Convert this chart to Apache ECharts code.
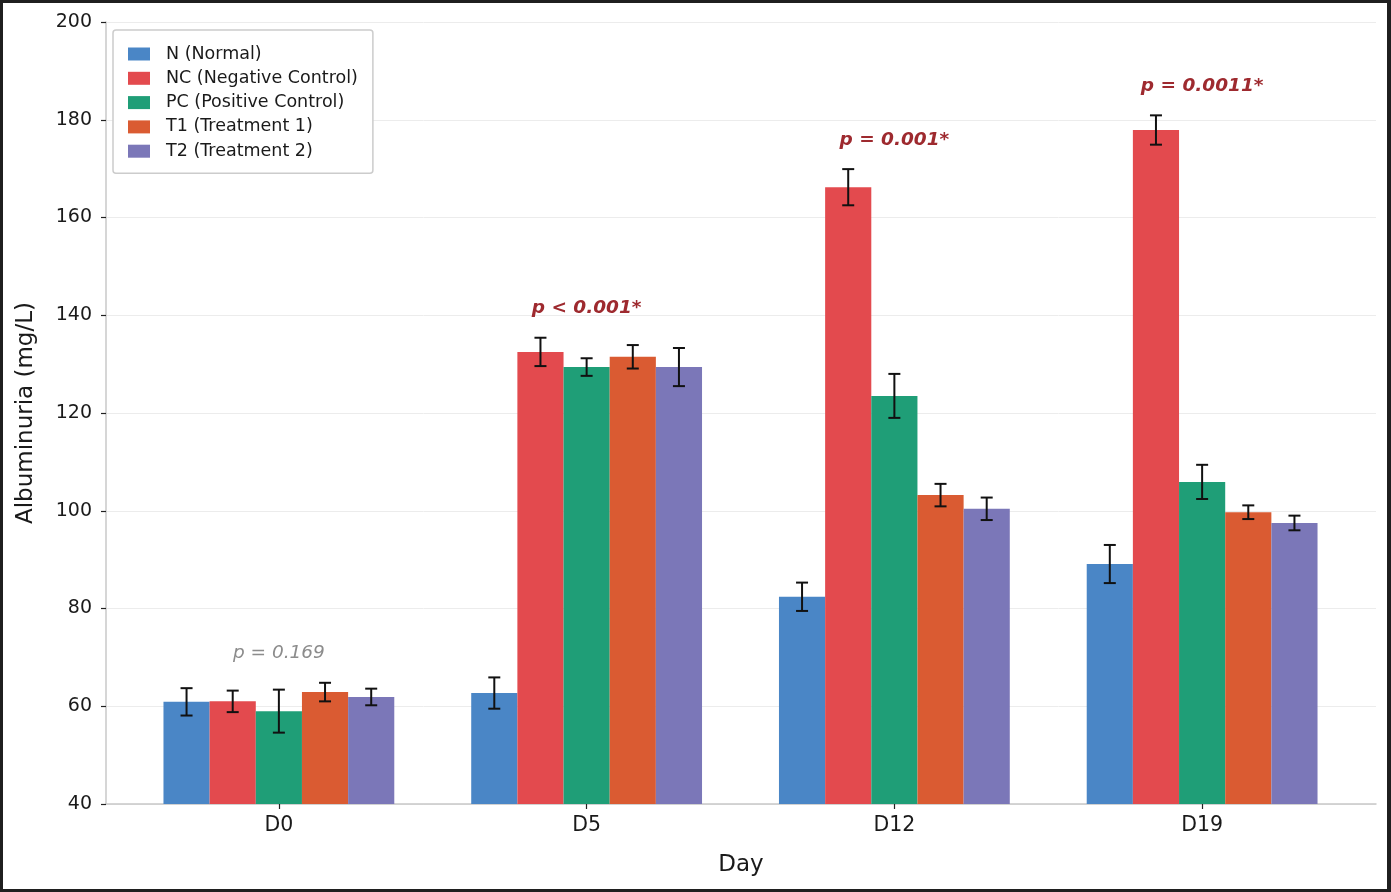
<!DOCTYPE html>
<html>
<head>
<meta charset="utf-8">
<script src="https://cdn.jsdelivr.net/npm/echarts@6/dist/echarts.min.js"></script>
<style>
  html, body { margin: 0; padding: 0; background: #1f1f1f; }
  #chart { position: absolute; left: 3px; top: 3px; width: 1384px; height: 886px; background: #fff; }
</style>
</head>
<body>
<div id="chart"></div>
<script>
// days on the x axis
const categories = ['D0', 'D5', 'D12', 'D19']
const groupNames = ['N (Normal)', 'NC (Negative Control)', 'PC (Positive Control)', 'T1 (Treatment 1)', 'T2 (Treatment 2)']
const groupColors = ['#4A86C6', '#E34A4E', '#1F9E77', '#DA5B32', '#7B77B8']

// albuminuria means and error (mg/L)
const nMeans = [60.9, 62.7, 82.4, 89.1]
const nErrs = [2.8, 3.2, 2.9, 3.9]
const ncMeans = [61.0, 132.5, 166.2, 177.9]
const ncErrs = [2.2, 2.9, 3.7, 3.0]
const pcMeans = [59.0, 129.4, 123.5, 105.9]
const pcErrs = [4.4, 1.8, 4.5, 3.5]
const t1Means = [62.9, 131.5, 103.2, 99.7]
const t1Errs = [1.9, 2.4, 2.3, 1.4]
const t2Means = [61.9, 129.4, 100.4, 97.5]
const t2Errs = [1.7, 3.9, 2.3, 1.5]

// p values per day
const pLabels = ['p = 0.169', 'p < 0.001*', 'p = 0.001*', 'p = 0.0011*']
const pSignificant = [false, true, true, true]

const yTicks = [40, 60, 80, 100, 120, 140, 160, 180, 200]

const allMeans = [nMeans, ncMeans, pcMeans, t1Means, t2Means]
const allErrs = [nErrs, ncErrs, pcErrs, t1Errs, t2Errs]
const BAR_FRAC = 0.15
const FONT = 'DejaVu Sans'

const chart = echarts.init(document.getElementById('chart'))

const barSeries = groupNames.map((name, s) => ({
    name: name,
    type: 'bar',
    xAxisIndex: 1,
    yAxisIndex: 1,
    data: allMeans[s],
    barGap: '0%',
    barCategoryGap: '25%',
    itemStyle: { color: groupColors[s] },
    z: 2
}))

const errSeries = groupNames.map((name, s) => ({
    type: 'custom',
    xAxisIndex: 1,
    yAxisIndex: 1,
    silent: true,
    z: 5,
    data: categories.map((c, i) => [i, allMeans[s][i] - allErrs[s][i], allMeans[s][i] + allErrs[s][i]]),
    renderItem: function (params, api) {
        const band = api.size([1, 0])[0]
        const dx = (s - 2) * band * BAR_FRAC
        const lo = api.coord([api.value(0), api.value(1)])
        const hi = api.coord([api.value(0), api.value(2)])
        const x = lo[0] + dx
        const cap = 6
        const st = { stroke: '#111', lineWidth: 2 }
        return {
            type: 'group',
            children: [
                { type: 'line', shape: { x1: x, y1: lo[1], x2: x, y2: hi[1] }, style: st },
                { type: 'line', shape: { x1: x - cap, y1: lo[1], x2: x + cap, y2: lo[1] }, style: st },
                { type: 'line', shape: { x1: x - cap, y1: hi[1], x2: x + cap, y2: hi[1] }, style: st }
            ]
        }
    }
}))

// p labels sit a little above the highest error bar of each day
const pSeries = {
    type: 'custom',
    xAxisIndex: 1,
    yAxisIndex: 1,
    silent: true,
    z: 6,
    data: categories.map((c, i) => {
        let top = 0
        allMeans.forEach((m, s) => { top = Math.max(top, m[i] + allErrs[s][i]) })
        return [i, top + 6]
    }),
    renderItem: function (params, api) {
        const i = api.value(0)
        const p = api.coord([i, api.value(1)])
        const sig = pSignificant[i]
        return {
            type: 'text',
            x: p[0],
            y: p[1],
            style: {
                text: pLabels[i],
                align: 'center',
                verticalAlign: 'middle',
                fontFamily: FONT,
                fontSize: 18.5,
                fontStyle: 'italic',
                fontWeight: sig ? 'bold' : 'normal',
                fill: sig ? '#9E2A2F' : '#8c8c8c'
            }
        }
    }
}

const option = {
    animation: false,
    textStyle: { fontFamily: FONT },
    legend: {
        data: groupNames,
        orient: 'vertical',
        left: 110,
        top: 27,
        padding: [15, 15, 13, 15],
        itemGap: 6.3,
        itemWidth: 22,
        itemHeight: 13,
        icon: 'rect',
        borderColor: '#cccccc',
        borderWidth: 1.5,
        borderRadius: 3,
        backgroundColor: '#fff',
        textStyle: { fontFamily: FONT, fontSize: 17.5, color: '#1a1a1a', lineHeight: 18, padding: [0, 0, 0, 11] }
    },
    grid: [
        { left: 103, top: 19, right: 11, bottom: 85 },
        { left: 122, top: 19, width: 1231, bottom: 85 }
    ],
    xAxis: [
        {
            type: 'value',
            gridIndex: 0,
            min: -0.565,
            max: 3.565,
            name: 'Day',
            nameLocation: 'middle',
            nameGap: 50,
            nameTextStyle: { fontFamily: FONT, fontSize: 23, color: '#1a1a1a' },
            axisLine: { show: true, onZero: false, lineStyle: { color: '#c8c8c8', width: 1.5 } },
            axisTick: { show: false },
            axisLabel: { show: false },
            splitLine: { show: false }
        },
        {
            type: 'category',
            gridIndex: 1,
            data: categories,
            axisLine: { show: false },
            axisTick: { show: true, alignWithLabel: true, length: 5, lineStyle: { color: '#222', width: 1.2 } },
            axisLabel: { fontFamily: FONT, fontSize: 20.5, color: '#1a1a1a', margin: 11 },
            splitLine: { show: false }
        }
    ],
    yAxis: [
        {
            type: 'value',
            gridIndex: 0,
            min: yTicks[0],
            max: yTicks[yTicks.length - 1],
            interval: 20,
            name: 'Albuminuria (mg/L)',
            nameLocation: 'middle',
            nameGap: 68,
            nameTextStyle: { fontFamily: FONT, fontSize: 23, color: '#1a1a1a' },
            axisLine: { show: true, onZero: false, lineStyle: { color: '#c8c8c8', width: 1.5 } },
            axisTick: { show: true, length: 5, lineStyle: { color: '#222', width: 1.2 } },
            axisLabel: { fontFamily: FONT, fontSize: 19, color: '#1a1a1a', margin: 14 },
            splitLine: { show: true, lineStyle: { color: '#ececec', width: 1 } }
        },
        {
            type: 'value',
            gridIndex: 1,
            min: yTicks[0],
            max: yTicks[yTicks.length - 1],
            interval: 20,
            show: false,
            splitLine: { show: false }
        }
    ],
    series: [...barSeries, ...errSeries, pSeries]
}

chart.setOption(option)
</script>
</body>
</html>
